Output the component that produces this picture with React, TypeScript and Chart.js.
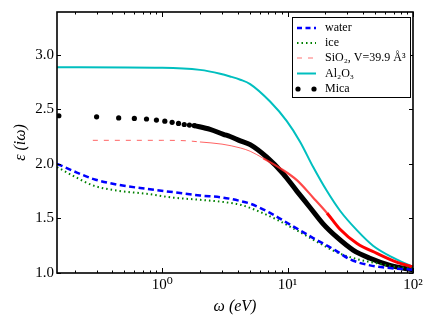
import React, { useEffect, useRef } from "react";
import { Chart, registerables } from "chart.js";
Chart.register(...registerables);

// ---- data ----
const waterX = [0.145, 0.209, 0.284, 0.435, 0.755, 1.23, 2.01, 3.08, 4.17, 5.03, 7.25, 10.6, 16, 23.9, 31.5, 45.4, 65.5, 100];
const waterY = [2.0, 1.92, 1.86, 1.81, 1.77, 1.74, 1.71, 1.69, 1.66, 1.635, 1.55, 1.44, 1.32, 1.21, 1.125, 1.07, 1.045, 1.03];

const iceX = [0.145, 0.195, 0.284, 0.435, 0.755, 1.23, 2.01, 3.08, 4.2, 5.6, 8.5, 11.85, 17.2, 24.6, 35, 51, 74, 100];
const iceY = [1.97, 1.89, 1.80, 1.755, 1.725, 1.69, 1.67, 1.65, 1.625, 1.575, 1.48, 1.39, 1.285, 1.19, 1.13, 1.09, 1.055, 1.045];

const sio2X = [0.28, 1.0, 1.6, 2.0, 3.0, 4.2, 5.03, 6.4, 8.7, 11.85, 16, 20.6, 26.2, 35.8, 51.5, 74, 100];
const sio2Y = [2.215, 2.215, 2.21, 2.20, 2.18, 2.145, 2.115, 2.05, 1.96, 1.85, 1.69, 1.55, 1.40, 1.27, 1.18, 1.10, 1.055];

const al2o3X = [0.145, 1.0, 2.0, 2.9, 3.48, 4.2, 5.03, 7.25, 9.86, 12.6, 16.0, 20.6, 26.2, 35.8, 48, 69.3, 100];
const al2o3Y = [2.885, 2.88, 2.86, 2.825, 2.80, 2.77, 2.73, 2.57, 2.39, 2.20, 1.97, 1.75, 1.57, 1.39, 1.25, 1.14, 1.055];

const micaDotX = [0.15, 0.3, 0.45, 0.6, 0.75, 0.9, 1.05, 1.2, 1.35, 1.5, 1.65, 1.8];
const micaDotY = [2.44, 2.43, 2.42, 2.415, 2.41, 2.40, 2.39, 2.38, 2.37, 2.36, 2.355, 2.35];

const micaLineX = [1.8, 2.41, 3.08, 3.48, 4.2, 5.03, 6.83, 9.2, 11.85, 15.1, 19.2, 24.6, 33.3, 45.4, 65.5, 100];
const micaLineY = [2.35, 2.315, 2.27, 2.25, 2.21, 2.175, 2.06, 1.91, 1.75, 1.60, 1.45, 1.33, 1.21, 1.135, 1.07, 1.03];

const yTicks = [1.0, 1.5, 2.0, 2.5, 3.0];
const xMajor = [1, 10, 100];
const xMinor = [0.2, 0.3, 0.4, 0.5, 0.6, 0.7, 0.8, 0.9, 2, 3, 4, 5, 6, 7, 8, 9, 20, 30, 40, 50, 60, 70, 80, 90];
const xLabels: Record<number, string> = { 1: "10⁰", 10: "10¹", 100: "10²" };

const legendLabels = ["water", "ice", "SiO₂, V=39.9 Å³", "Al₂O₃", "Mica"];

const pts = (xs: number[], ys: number[]) => xs.map((x, i) => ({ x, y: ys[i] }));

const SERIF = "'Liberation Serif', 'DejaVu Serif', serif";

export default function App() {
  const ref = useRef<HTMLCanvasElement>(null);
  useEffect(() => {
    if (!ref.current) return;
    const frame = {
      id: "frame",
      afterDatasetsDraw(chart: any) {
        const { ctx, chartArea: a, scales } = chart;
        ctx.save();
        ctx.strokeStyle = "#000";
        ctx.lineWidth = 1;
        const seg = (x1: number, y1: number, x2: number, y2: number) => {
          ctx.beginPath();
          ctx.moveTo(x1, y1);
          ctx.lineTo(x2, y2);
          ctx.stroke();
        };
        for (const v of yTicks) {
          const p = Math.round(scales.y.getPixelForValue(v)) + 0.5;
          seg(a.left, p, a.left + 4, p);
          seg(a.right - 4, p, a.right, p);
        }
        for (const v of xMajor) {
          const p = Math.round(scales.x.getPixelForValue(v)) + 0.5;
          seg(p, a.bottom, p, a.bottom - 5);
          seg(p, a.top, p, a.top + 5);
        }
        for (const v of xMinor) {
          const p = Math.round(scales.x.getPixelForValue(v)) + 0.5;
          seg(p, a.bottom, p, a.bottom - 2.5);
          seg(p, a.top, p, a.top + 2.5);
        }
        ctx.lineWidth = 1.6;
        ctx.strokeRect(a.left, a.top, a.right - a.left, a.bottom - a.top);

        // legend
        const bx = a.right - 121, by = a.top + 5, bw = 118, bh = 80;
        ctx.fillStyle = "#fff";
        ctx.fillRect(bx, by, bw, bh);
        ctx.lineWidth = 1;
        ctx.strokeStyle = "#000";
        ctx.strokeRect(bx + 0.5, by + 0.5, bw, bh);
        const rows = [by + 11, by + 26, by + 41, by + 56.5, by + 72];
        const lx1 = bx + 5, lx2 = bx + 24, tx = bx + 33;
        ctx.font = `12px ${SERIF}`;
        ctx.textBaseline = "middle";
        ctx.fillStyle = "#000";
        legendLabels.forEach((t, i) => ctx.fillText(t, tx, rows[i]));
        // water
        ctx.setLineDash([5, 3.5]);
        ctx.strokeStyle = "#0000ff";
        ctx.lineWidth = 2.5;
        seg(lx1, rows[0], lx2, rows[0]);
        // ice
        ctx.setLineDash([1.5, 3]);
        ctx.strokeStyle = "#008000";
        ctx.lineWidth = 2;
        seg(lx1, rows[1], lx2, rows[1]);
        // sio2
        ctx.setLineDash([5, 6]);
        ctx.strokeStyle = "rgba(255,80,80,0.8)";
        ctx.lineWidth = 1;
        seg(lx1, rows[2], lx2, rows[2]);
        // al2o3
        ctx.setLineDash([]);
        ctx.strokeStyle = "#00bfbf";
        ctx.lineWidth = 2;
        seg(lx1, rows[3], lx2, rows[3]);
        // mica
        ctx.fillStyle = "#000";
        for (const cx of [lx1 + 1, lx2 - 2]) {
          ctx.beginPath();
          ctx.arc(cx, rows[4], 2.6, 0, Math.PI * 2);
          ctx.fill();
        }
        ctx.restore();
      },
    };

    const chart = new Chart(ref.current, {
      type: "line",
      data: {
        datasets: [
          {
            label: "water",
            data: pts(waterX, waterY),
            borderColor: "#0000ff",
            borderDash: [6, 3.5],
            borderWidth: 2.5,
            pointRadius: 0,
            cubicInterpolationMode: "monotone",
          },
          {
            label: "ice",
            data: pts(iceX, iceY),
            borderColor: "#008000",
            borderDash: [1.5, 3],
            borderWidth: 2,
            pointRadius: 0,
            cubicInterpolationMode: "monotone",
          },
          {
            label: "SiO2",
            data: pts(sio2X, sio2Y),
            borderColor: "#ff0000",
            borderWidth: 1,
            pointRadius: 0,
            cubicInterpolationMode: "monotone",
            segment: {
              borderDash: (c: any) => (c.p0.parsed.x < 2 ? [5, 6] : []),
              borderWidth: (c: any) => (c.p0.parsed.x < 6 ? 1 : c.p0.parsed.x < 20 ? 2.2 : 3),
              borderColor: (c: any) => (c.p0.parsed.x < 6 ? "rgba(255,60,60,0.8)" : c.p0.parsed.x < 20 ? "rgba(255,40,40,0.85)" : "#ff0000"),
            },
          },
          {
            label: "Al2O3",
            data: pts(al2o3X, al2o3Y),
            borderColor: "#00bfbf",
            borderWidth: 2,
            pointRadius: 0,
            cubicInterpolationMode: "monotone",
          },
          {
            label: "Mica line",
            data: pts(micaLineX, micaLineY),
            borderColor: "#000",
            borderWidth: 5,
            pointRadius: 0,
            cubicInterpolationMode: "monotone",
          },
          {
            label: "Mica",
            data: pts(micaDotX, micaDotY),
            showLine: false,
            pointRadius: 2.6,
            pointBackgroundColor: "#000",
            pointBorderWidth: 0,
            clip: 0,
          },
        ],
      },
      options: {
        animation: false,
        responsive: false,
        layout: { padding: { left: 0, top: 10, right: 23, bottom: 0 } },
        plugins: { legend: { display: false }, tooltip: { enabled: false } },
        scales: {
          x: {
            type: "logarithmic",
            min: 0.145,
            max: 100,
            afterBuildTicks: (s: any) => {
              s.ticks = xMajor.map((v) => ({ value: v, major: true }));
            },
            afterFit: (s: any) => {
              s.height = 54;
            },
            grid: { display: false, drawTicks: false },
            border: { display: false },
            ticks: {
              autoSkip: false,
              maxRotation: 0,
              padding: 3,
              color: "#000",
              font: { family: SERIF, size: 15 },
              callback: (v: any) => xLabels[Number(v)] ?? "",
            },
            title: {
              display: true,
              text: "ω (eV)",
              color: "#000",
              font: { family: SERIF, size: 16, style: "italic" },
              padding: { top: 0, bottom: 11 },
            },
          },
          y: {
            type: "linear",
            min: 1.0,
            max: 3.39,
            afterBuildTicks: (s: any) => {
              s.ticks = yTicks.map((v) => ({ value: v }));
            },
            afterFit: (s: any) => {
              s.width = 57;
            },
            grid: { display: false, drawTicks: false },
            border: { display: false },
            ticks: {
              padding: 3,
              color: "#000",
              font: { family: SERIF, size: 15 },
              callback: (v: any) => Number(v).toFixed(1),
            },
            title: {
              display: true,
              text: "ε (iω)",
              color: "#000",
              font: { family: SERIF, size: 16, style: "italic" },
              padding: { top: 11, bottom: 0 },
            },
          },
        },
      },
      plugins: [frame],
    } as any);
    return () => chart.destroy();
  }, []);
  return (
    <div style={{ position: "fixed", left: 0, top: 0, width: 436, height: 327, background: "#fff" }}>
      <canvas ref={ref} width={436} height={327} />
    </div>
  );
}
